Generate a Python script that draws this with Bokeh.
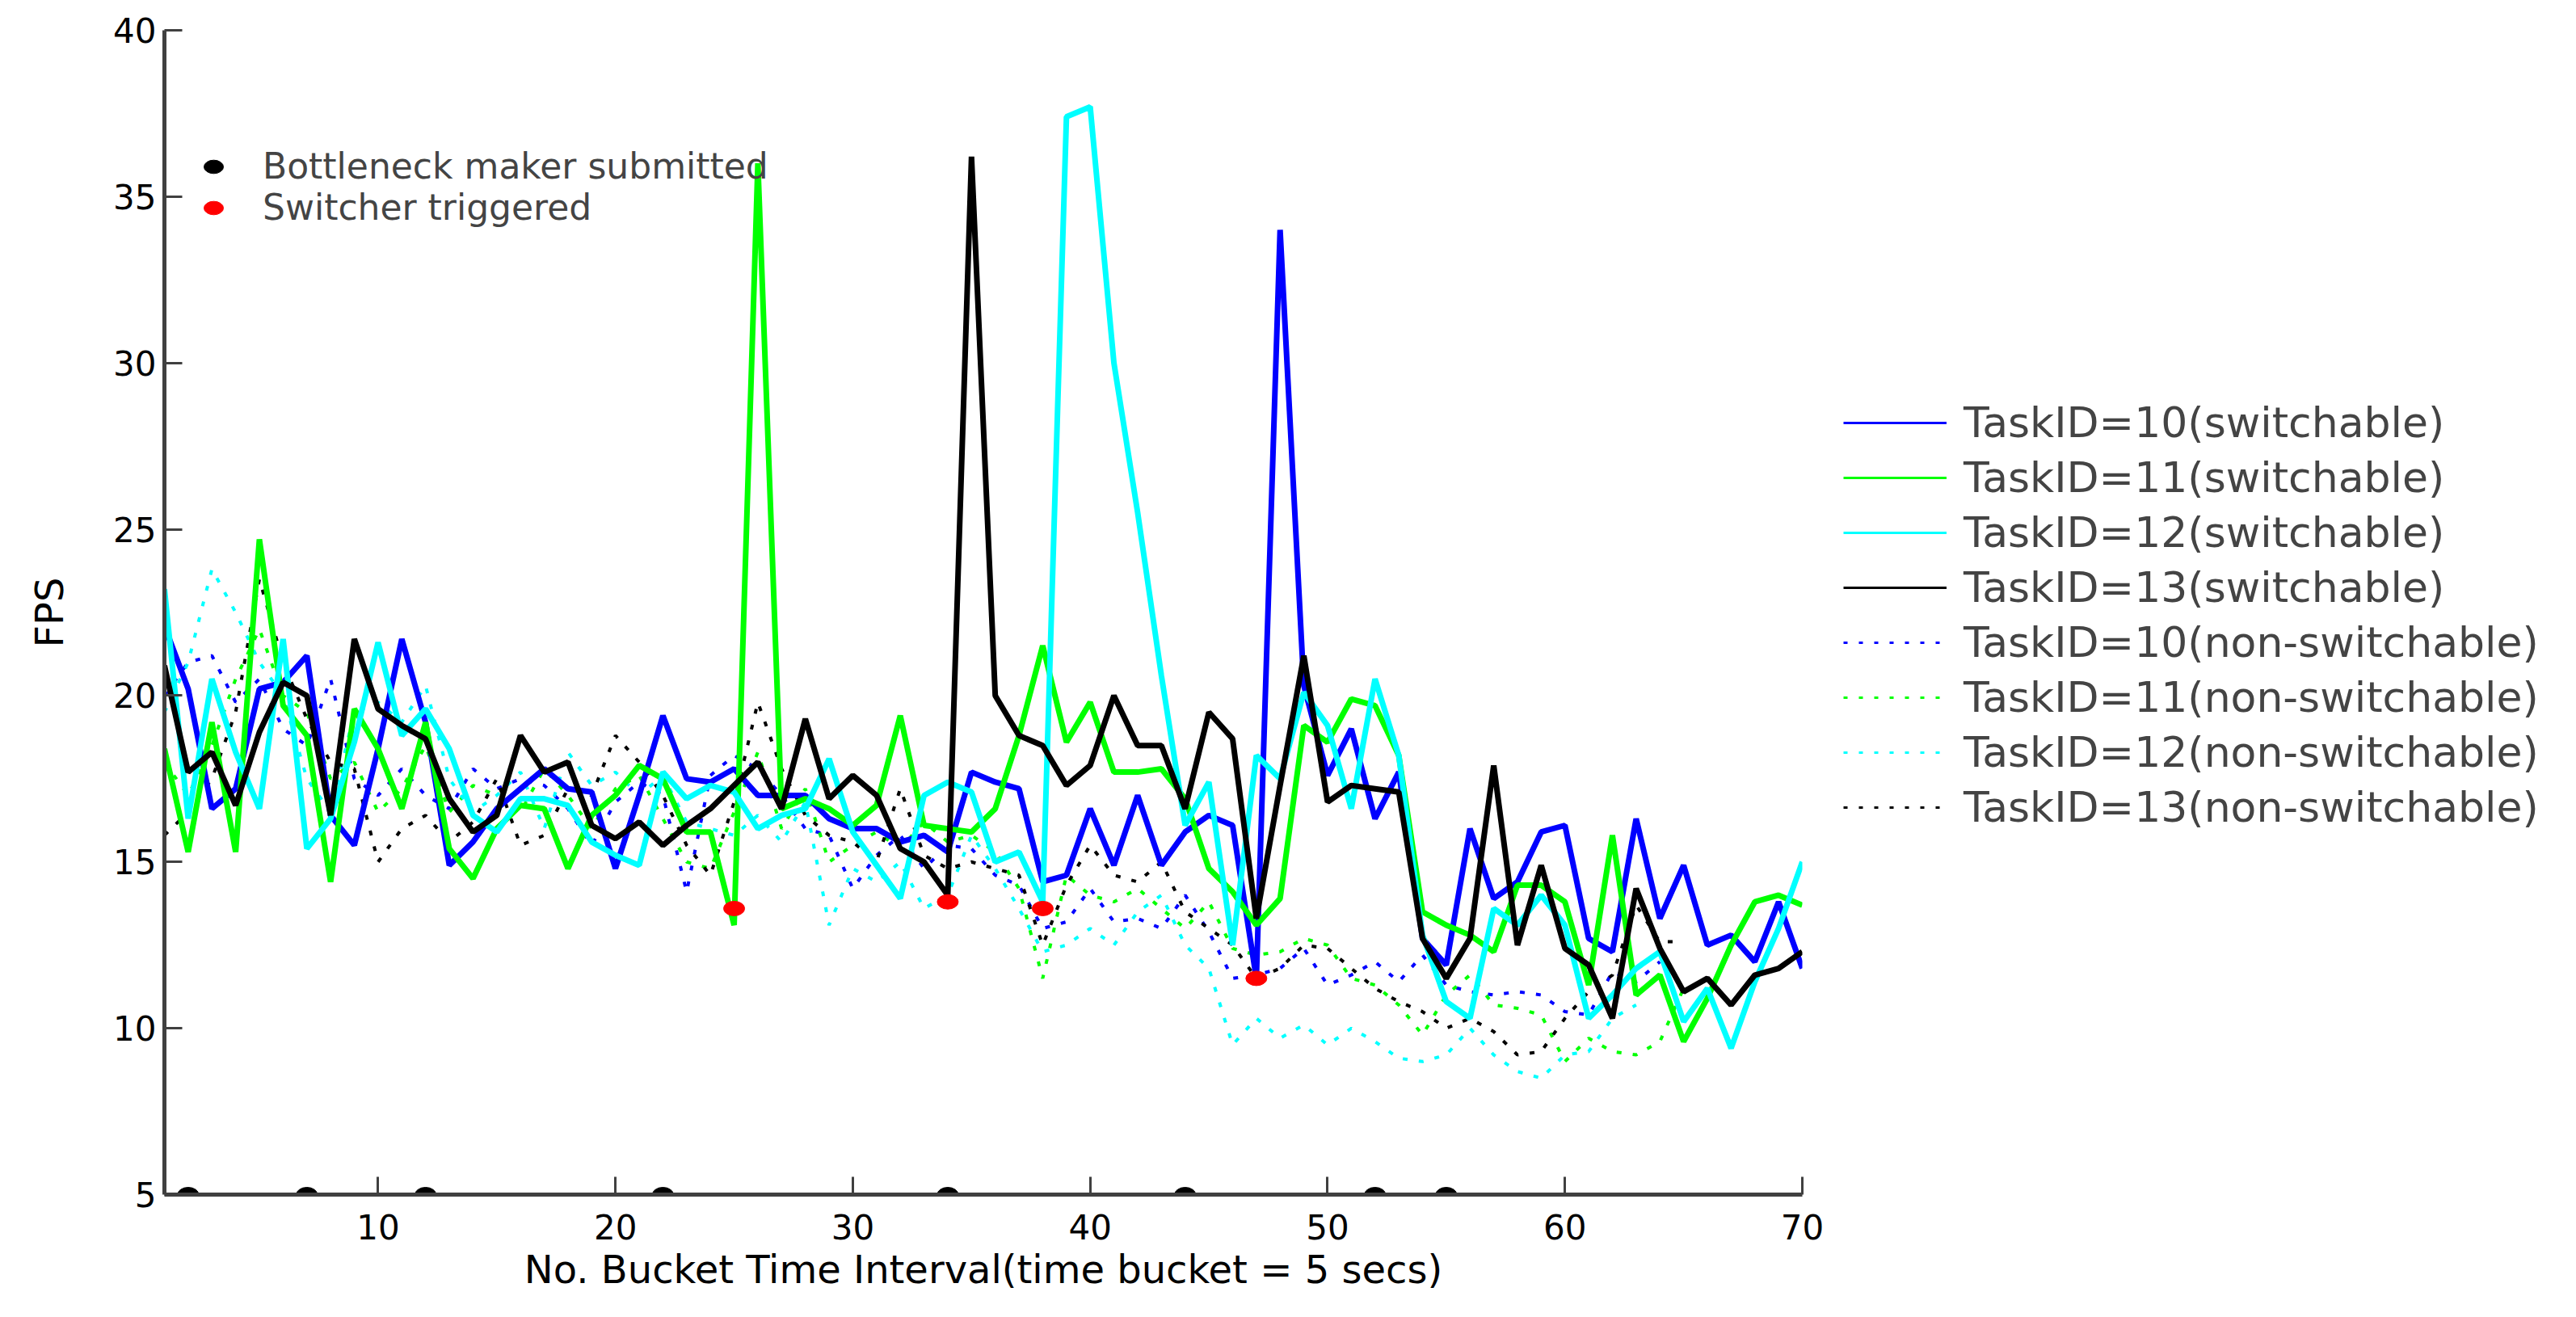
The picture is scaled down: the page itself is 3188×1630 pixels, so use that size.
import numpy as np
from bokeh.plotting import figure
from bokeh.layouts import row
from bokeh.models import Range1d, FixedTicker, Legend, LegendItem
from bokeh.embed import file_html
from bokeh.resources import INLINE

# time buckets (x) and tick marks
buckets = list(range(1, 71))
x_ticks = [10, 20, 30, 40, 50, 60, 70]
y_ticks = [5, 10, 15, 20, 25, 30, 35, 40]

# switchable tasks (FPS per bucket)
fps_10_sw = [22.1, 20.2, 16.6, 17.2, 20.2, 20.4, 21.2, 16.4, 15.5, 18.4,
             21.7, 19.2, 14.9, 15.6, 16.6, 17.2, 17.8, 17.2, 17.1, 14.8,
             17.0, 19.4, 17.5, 17.4, 17.8, 17.0, 17.0, 17.0, 16.3, 16.0,
             16.0, 15.6, 15.8, 15.3, 17.7, 17.4, 17.2, 14.4, 14.6, 16.6,
             14.9, 17.0, 14.9, 15.9, 16.4, 16.1, 11.5, 34.0, 20.3, 17.6,
             19.0, 16.3, 17.7, 12.7, 11.9, 16.0, 13.9, 14.4, 15.9, 16.1,
             12.7, 12.3, 16.3, 13.3, 14.9, 12.5, 12.8, 12.0, 13.8, 11.8]
fps_11_sw = [18.4, 15.3, 19.2, 15.3, 24.7, 19.7, 18.8, 14.4, 19.6, 18.4,
             16.6, 19.2, 15.4, 14.5, 16.0, 16.7, 16.6, 14.8, 16.4, 17.0,
             17.9, 17.5, 15.9, 15.9, 13.1, 36.0, 16.6, 16.9, 16.6, 16.1,
             16.7, 19.4, 16.1, 16.0, 15.9, 16.6, 18.8, 21.5, 18.6, 19.8,
             17.7, 17.7, 17.8, 16.9, 14.8, 14.1, 13.1, 13.9, 19.1, 18.6,
             19.9, 19.7, 18.2, 13.5, 13.1, 12.8, 12.3, 14.3, 14.3, 13.8,
             11.3, 15.8, 11.0, 11.6, 9.6, 10.9, 12.5, 13.8, 14.0, 13.7]
fps_12_sw = [23.2, 16.3, 20.5, 18.3, 16.6, 21.7, 15.4, 16.3, 18.6, 21.6,
             18.8, 19.6, 18.4, 16.4, 15.9, 16.9, 16.9, 16.7, 15.6, 15.2,
             14.9, 17.7, 16.9, 17.3, 17.1, 16.0, 16.4, 16.6, 18.1, 15.9,
             14.9, 13.9, 17.0, 17.4, 17.1, 15.0, 15.3, 13.8, 37.4, 37.7,
             30.0, 25.5, 20.6, 16.1, 17.4, 12.5, 18.2, 17.5, 20.1, 19.1,
             16.6, 20.5, 18.2, 12.8, 10.8, 10.3, 13.6, 13.1, 14.0, 13.1,
             10.3, 11.0, 11.8, 12.3, 10.2, 11.2, 9.4, 11.4, 13.0, 15.0]
fps_13_sw = [20.9, 17.7, 18.3, 16.7, 18.9, 20.4, 20.0, 16.4, 21.7, 19.6,
             19.1, 18.7, 16.9, 15.9, 16.4, 18.8, 17.7, 18.0, 16.1, 15.7,
             16.2, 15.5, 16.1, 16.6, 17.3, 18.0, 16.6, 19.3, 16.9, 17.6,
             17.0, 15.4, 15.0, 14.0, 36.2, 20.0, 18.8, 18.5, 17.3, 17.9,
             20.0, 18.5, 18.5, 16.6, 19.5, 18.7, 13.3, 17.3, 21.2, 16.8,
             17.3, 17.2, 17.1, 12.7, 11.5, 12.7, 17.9, 12.5, 14.9, 12.4,
             11.9, 10.3, 14.2, 12.4, 11.1, 11.5, 10.7, 11.6, 11.8, 12.3]

# non-switchable tasks (shorter runs)
fps_10_ns = [20.0, 21.0, 21.2, 19.8, 20.5, 19.0, 18.5, 20.5, 17.5, 17.0,
             17.8, 17.0, 16.6, 17.8, 17.2, 17.5, 17.3, 16.6, 15.5, 16.8,
             17.4, 17.0, 14.1, 17.6, 18.2, 17.8, 17.0, 16.0, 15.8, 14.2,
             15.2, 15.8, 14.8, 15.5, 15.4, 14.6, 14.3, 13.0, 13.2, 14.2,
             13.2, 13.3, 13.0, 14.0, 12.9, 11.5, 11.6, 11.8, 12.4, 11.3,
             11.6, 12.0, 11.4, 12.2, 11.3, 11.1, 11.0, 11.1, 11.0, 10.5,
             10.4, 11.7, 11.4, 12.0]
fps_11_ns = [18.0, 17.0, 18.5, 20.5, 22.0, 20.0, 19.5, 17.5, 18.0, 16.5,
             17.2, 18.5, 16.5, 17.3, 17.0, 16.5, 17.8, 17.0, 16.0, 17.2,
             17.6, 16.3, 15.0, 14.8, 16.5, 18.3, 16.0, 17.2, 15.0, 15.5,
             15.9, 15.4, 16.2, 15.6, 15.8, 15.3, 14.2, 11.5, 14.6, 14.0,
             13.8, 14.2, 13.6, 13.0, 13.8, 12.4, 12.2, 12.3, 12.7, 12.5,
             11.5, 11.3, 10.7, 9.8, 11.0, 11.6, 10.7, 10.6, 10.4, 9.0,
             9.7, 9.3, 9.2, 9.6, 11.2]
fps_12_ns = [19.5, 21.0, 23.8, 22.5, 21.0, 20.0, 17.5, 16.5, 19.5, 19.8,
             19.2, 20.3, 17.5, 16.5, 17.0, 17.7, 16.0, 18.3, 17.3, 17.7,
             17.0, 17.6, 16.2, 16.0, 15.8, 16.4, 15.6, 16.8, 13.1, 14.8,
             14.4, 15.0, 13.6, 14.0, 15.8, 14.8, 13.6, 12.3, 12.5, 13.0,
             12.5, 13.5, 14.0, 12.5, 11.8, 9.5, 10.3, 9.7, 10.1, 9.5,
             10.0, 9.6, 9.1, 9.0, 9.2, 10.0, 9.2, 8.7, 8.5, 9.2,
             9.3, 10.3, 10.7]
fps_13_ns = [15.8, 16.5, 17.5, 19.5, 23.5, 21.0, 19.3, 18.0, 17.8, 15.0,
             16.0, 16.4, 15.6, 16.2, 17.5, 15.5, 15.8, 17.2, 17.0, 18.8,
             18.0, 17.0, 15.5, 14.6, 16.8, 19.8, 17.8, 16.4, 15.8, 15.6,
             15.0, 17.2, 15.2, 14.8, 15.0, 14.8, 14.6, 12.5, 14.3, 15.5,
             14.6, 14.4, 15.0, 13.5, 13.0, 12.5, 11.5, 11.8, 12.5, 12.4,
             11.8, 11.2, 10.8, 10.5, 10.0, 10.3, 9.9, 9.2, 9.3, 10.3,
             11.1, 11.6, 13.7, 12.6, 12.6]

# events
bottleneck_x = [2, 7, 12, 22, 34, 44, 52, 55]
bottleneck_y = [5, 5, 5, 5, 5, 5, 5, 5]
switcher_x = [25, 34, 38, 47]
switcher_y = [13.6, 13.8, 13.6, 11.5]

labels_sw = ["TaskID=10(switchable)", "TaskID=11(switchable)",
             "TaskID=12(switchable)", "TaskID=13(switchable)"]
labels_ns = ["TaskID=10(non-switchable)", "TaskID=11(non-switchable)",
             "TaskID=12(non-switchable)", "TaskID=13(non-switchable)"]
colors = ["#0000ff", "#00ff00", "#00ffff", "#000000"]

FONT = "DejaVu Sans"
H = 1612
MAIN_W = 2262
SIDE_W = 910

p = figure(width=MAIN_W, height=H,
           x_range=Range1d(1, 70), y_range=Range1d(5, 40),
           x_axis_label="No. Bucket Time Interval(time bucket = 5 secs)",
           y_axis_label="FPS",
           output_backend="svg", toolbar_location=None,
           min_border_left=203, min_border_right=32,
           min_border_top=37, min_border_bottom=134)

p.xgrid.visible = False
p.ygrid.visible = False
p.outline_line_color = None
p.background_fill_color = "white"

p.xaxis.ticker = FixedTicker(ticks=x_ticks)
p.yaxis.ticker = FixedTicker(ticks=y_ticks)
for ax in (p.xaxis[0], p.yaxis[0]):
    ax.axis_line_width = 5
    ax.axis_line_color = "#404040"
    ax.major_tick_in = 22
    ax.major_tick_out = 0
    ax.major_tick_line_width = 3
    ax.major_tick_line_color = "#404040"
    ax.minor_tick_line_color = None
    ax.major_label_text_font = FONT
    ax.major_label_text_font_size = "42px"
    ax.major_label_text_color = "black"
    ax.axis_label_text_font = FONT
    ax.axis_label_text_font_size = "48px"
    ax.axis_label_text_font_style = "normal"
    ax.axis_label_text_color = "black"
    ax.major_label_standoff = 10
p.xaxis.major_label_standoff = 24
p.xaxis.axis_label_standoff = 6
p.yaxis.axis_label_standoff = 48

# dotted (non-switchable) runs underneath
for vals, c in zip([fps_10_ns, fps_11_ns, fps_12_ns, fps_13_ns], colors):
    p.line(buckets[:len(vals)], vals, line_color=c, line_width=4, line_dash="6 14")

# solid (switchable) runs
for vals, c in zip([fps_10_sw, fps_11_sw, fps_12_sw, fps_13_sw], colors):
    p.line(buckets, vals, line_color=c, line_width=7)

# event markers
bn = p.ellipse(bottleneck_x, bottleneck_y, width=26, height=18,
               width_units="screen", height_units="screen",
               fill_color="black", line_color="black")
sw = p.ellipse(switcher_x, switcher_y, width=26, height=18,
               width_units="screen", height_units="screen",
               fill_color="red", line_color="red")

events = Legend(items=[LegendItem(label="Bottleneck maker submitted", renderers=[bn]),
                       LegendItem(label="Switcher triggered", renderers=[sw])],
                location=(46, 1196), glyph_width=30, glyph_height=30,
                label_height=44, spacing=0, label_standoff=46, padding=0, margin=0,
                label_text_font=FONT, label_text_font_size="44px",
                border_line_color=None, background_fill_alpha=0)
p.add_layout(events)

# side panel holding the series legend (thin proxy lines, one NaN point each)
side = figure(width=SIDE_W, height=H, x_range=Range1d(0, 1), y_range=Range1d(0, 1),
              x_axis_location=None, y_axis_location=None,
              output_backend="svg", toolbar_location=None,
              min_border=0)
side.xgrid.visible = False
side.ygrid.visible = False
side.outline_line_color = None

nan_y = np.array([np.nan])
items = []
for lab, c in zip(labels_sw, colors):
    r = side.line([0.5], nan_y, line_color=c, line_width=3)
    items.append(LegendItem(label=lab, renderers=[r]))
for lab, c in zip(labels_ns, colors):
    r = side.line([0.5], nan_y, line_color=c, line_width=3, line_dash="5 14")
    items.append(LegendItem(label=lab, renderers=[r]))

legend = Legend(items=items, location=(19, 449),
                glyph_width=128, glyph_height=60, label_height=60,
                spacing=8, label_standoff=21, padding=0, margin=0,
                label_text_font=FONT, label_text_font_size="52px",
                border_line_color=None, background_fill_alpha=0)
side.add_layout(legend)

layout = row(p, side)

open("out.html", "w").write(file_html(layout, INLINE))
